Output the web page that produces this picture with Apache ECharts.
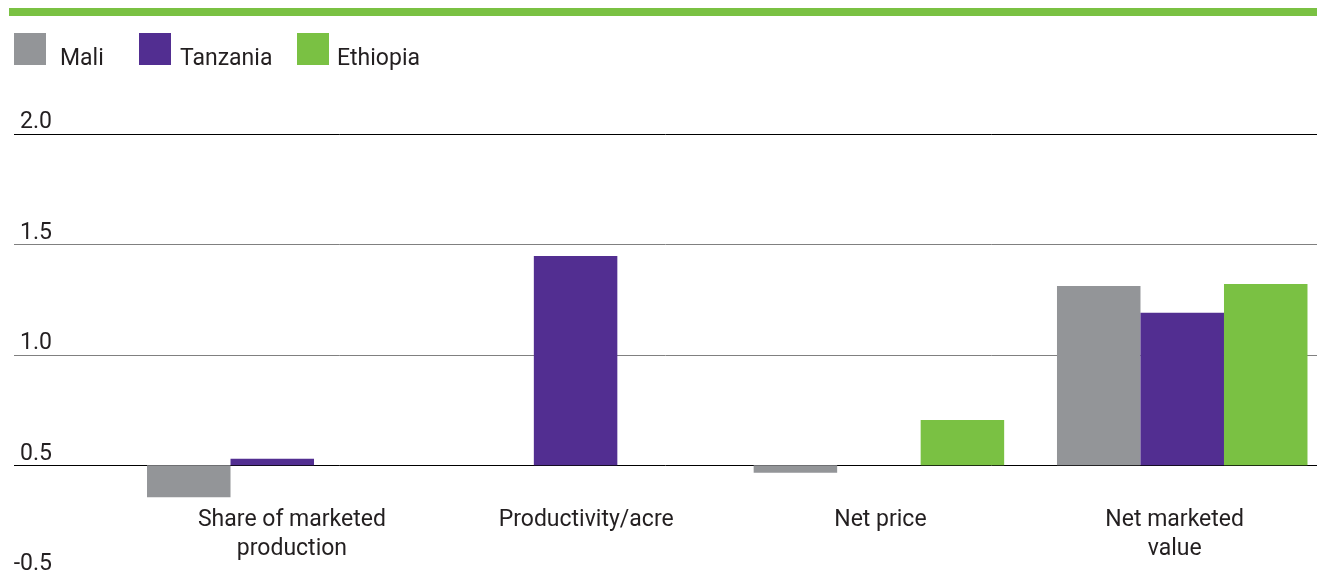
<!DOCTYPE html>
<html>
<head>
<meta charset="utf-8">
<script src="https://cdn.jsdelivr.net/npm/echarts@6/dist/echarts.min.js"></script>
<style>
  html, body { margin: 0; padding: 0; background: #fff; overflow: hidden; }
  #chart { width: 1400px; height: 620px; }
</style>
</head>
<body>
<div id="chart"></div>
<script>
// ---- data ----
const categories = ['Share of marketed\nproduction', 'Productivity/acre', 'Net price', 'Net marketed\nvalue'];
const seriesNames = ['Mali', 'Tanzania', 'Ethiopia'];
const mali = [-0.145, null, -0.034, 0.812];
const tanzania = [0.029, 0.948, null, 0.691];
const ethiopia = [null, null, 0.205, 0.821];
const yTickValues = [-0.5, 0, 0.5, 1.0, 1.5];
const yTickLabels = ['-0.5', '0.5', '1.0', '1.5', '2.0'];

const colors = ['#939598', '#522E91', '#7AC143'];
const FONT = 'Roboto';
const TEXT = '#231F20';

const chart = echarts.init(document.getElementById('chart'), null, { renderer: 'canvas' });

function legendAt(name, left, padLeft) {
  return {
    data: [name], left: left, top: 33, padding: 0, icon: 'rect', itemWidth: 32, itemHeight: 32,
    selectedMode: false,
    formatter: '{t|{name}}',
    textStyle: {
      fontFamily: FONT, fontSize: 23, color: TEXT,
      rich: { t: { fontFamily: FONT, fontSize: 23, color: TEXT, padding: [21, 0, 0, padLeft] } }
    }
  };
}

const option = {
  animation: false,
  backgroundColor: '#fff',
  color: colors,
  graphic: [{ type: 'rect', shape: { x: 9, y: 8, width: 1308, height: 8 }, style: { fill: '#7AC143' } }],
  legend: [legendAt('Mali', 14, 9), legendAt('Tanzania', 139, 4), legendAt('Ethiopia', 297, 3)],
  grid: [
    { left: 14, width: 1303, top: 134, height: 441.7 },
    { left: 120.6, width: 1213.3, top: 134, height: 441.7 },
    { left: 144.8, width: 1177, top: 134, height: 331.3 }
  ],
  xAxis: [
    { gridIndex: 0, type: 'value', show: false, min: 0, max: 1 },
    { gridIndex: 1, type: 'category', data: categories, show: false },
    { gridIndex: 2, type: 'category', data: categories,
      axisLine: { show: false }, axisTick: { show: false },
      axisLabel: { margin: 40, fontFamily: FONT, fontSize: 23, lineHeight: 29, color: TEXT, interval: 0 } }
  ],
  yAxis: [
    { gridIndex: 0, type: 'value', min: -0.5, max: 1.5, interval: 0.5,
      axisLine: { show: false }, axisTick: { show: false },
      splitLine: { lineStyle: { color: ['#000', '#000', '#808080', '#808080', '#000'], width: 1 } },
      axisLabel: {
        inside: true, align: 'right', verticalAlign: 'bottom', margin: 38,
        fontFamily: FONT, fontSize: 23, color: TEXT,
        formatter: function (v) {
          const i = yTickValues.findIndex(t => Math.abs(t - v) < 1e-9);
          return i >= 0 ? yTickLabels[i] : '';
        }
      } },
    { gridIndex: 1, type: 'value', min: -0.5, max: 1.5, show: false, splitLine: { show: false } },
    { gridIndex: 2, type: 'value', min: 0, max: 1, show: false, splitLine: { show: false } }
  ],
  series: [
    { name: seriesNames[0], type: 'bar', xAxisIndex: 1, yAxisIndex: 1, data: mali, barWidth: 83.5, barGap: '0%' },
    { name: seriesNames[1], type: 'bar', xAxisIndex: 1, yAxisIndex: 1, data: tanzania, barWidth: 83.5, barGap: '0%' },
    { name: seriesNames[2], type: 'bar', xAxisIndex: 1, yAxisIndex: 1, data: ethiopia, barWidth: 83.5, barGap: '0%' }
  ]
};
chart.setOption(option);
</script>
</body>
</html>
